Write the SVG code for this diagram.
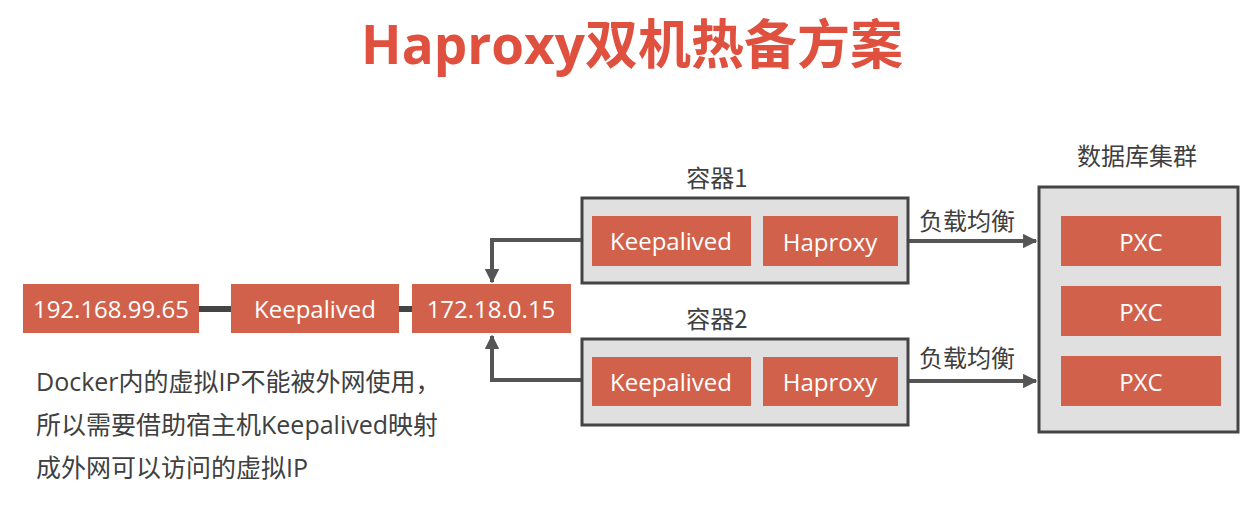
<svg xmlns="http://www.w3.org/2000/svg" width="1251" height="508" viewBox="0 0 1251 508">
<style>
.bg{fill:#ffffff}
.box{fill:#d1614b}
.bt{fill:#ffffff;font-family:"Open Sans","Noto Sans","Noto Sans CJK SC",sans-serif;font-size:24px;text-anchor:middle;dominant-baseline:central}
.grp{fill:#e0e0e0;stroke:#444444;stroke-width:3}
.lbl{fill:#404040;font-family:"Noto Sans CJK SC","Noto Sans",sans-serif;font-size:24px;text-anchor:middle}
.note{fill:#404040;font-family:"Open Sans","Noto Sans CJK SC",sans-serif;font-size:25px}
.ln{stroke:#555555;stroke-width:4;fill:none}
.thk{stroke:#444444;stroke-width:6;fill:none}
</style>
<defs>
<marker id="ah" viewBox="0 0 10 10" refX="9" refY="5" markerWidth="3.6" markerHeight="3.6" orient="auto" markerUnits="strokeWidth">
<path d="M0,0 L10,5 L0,10 z" fill="#555555"/>
</marker>
</defs>
<rect class="bg" x="0" y="0" width="1251" height="508"/>
<text x="632" y="64" text-anchor="middle" fill="#e0503f" font-family="Open Sans,Noto Sans CJK SC,sans-serif" font-weight="bold" font-size="53">Haproxy双机热备方案</text>

<g id="connectors">
<line class="thk" x1="199" y1="309" x2="231" y2="309"/>
<line class="thk" x1="399" y1="309" x2="412" y2="309"/>
<polyline class="ln" points="581,240 492,240 492,282" marker-end="url(#ah)"/>
<polyline class="ln" points="581,380 492,380 492,336" marker-end="url(#ah)"/>
<line class="ln" x1="898" y1="241" x2="1036" y2="241" marker-end="url(#ah)"/>
<line class="ln" x1="898" y1="381" x2="1036" y2="381" marker-end="url(#ah)"/>
<text class="lbl" x="967" y="230">负载均衡</text>
<text class="lbl" x="967" y="367">负载均衡</text>
</g>

<g id="ip-host">
<rect class="box" x="23" y="284" width="176" height="49"/>
<text class="bt" x="111" y="308">192.168.99.65</text>
</g>
<g id="keepalived-host">
<rect class="box" x="231" y="284" width="168" height="49"/>
<text class="bt" x="315" y="308">Keepalived</text>
</g>
<g id="ip-virtual">
<rect class="box" x="412" y="284" width="159" height="49"/>
<text class="bt" x="491" y="308">172.18.0.15</text>
</g>

<g id="container1">
<text class="lbl" x="717" y="187">容器1</text>
<rect class="grp" x="582" y="198" width="326" height="85"/>
<rect class="box" x="592" y="216" width="159" height="50"/>
<text class="bt" x="671" y="240">Keepalived</text>
<rect class="box" x="763" y="216" width="135" height="50"/>
<text class="bt" x="830" y="241">Haproxy</text>
</g>

<g id="container2">
<text class="lbl" x="717" y="328">容器2</text>
<rect class="grp" x="582" y="339" width="326" height="86"/>
<rect class="box" x="592" y="357" width="159" height="49"/>
<text class="bt" x="671" y="381">Keepalived</text>
<rect class="box" x="763" y="357" width="135" height="49"/>
<text class="bt" x="830" y="381">Haproxy</text>
</g>

<g id="db-cluster">
<text class="lbl" x="1137" y="165">数据库集群</text>
<rect class="grp" x="1039" y="187" width="199" height="245"/>
<rect class="box" x="1061" y="216" width="160" height="50"/>
<text class="bt" x="1141" y="241">PXC</text>
<rect class="box" x="1061" y="286" width="160" height="50"/>
<text class="bt" x="1141" y="311">PXC</text>
<rect class="box" x="1061" y="356" width="160" height="50"/>
<text class="bt" x="1141" y="381">PXC</text>
</g>

<g id="note">
<text class="note" x="36" y="391">Docker内的虚拟IP不能被外网使用，</text>
<text class="note" x="36" y="434">所以需要借助宿主机Keepalived映射</text>
<text class="note" x="36" y="477">成外网可以访问的虚拟IP</text>
</g>
</svg>
